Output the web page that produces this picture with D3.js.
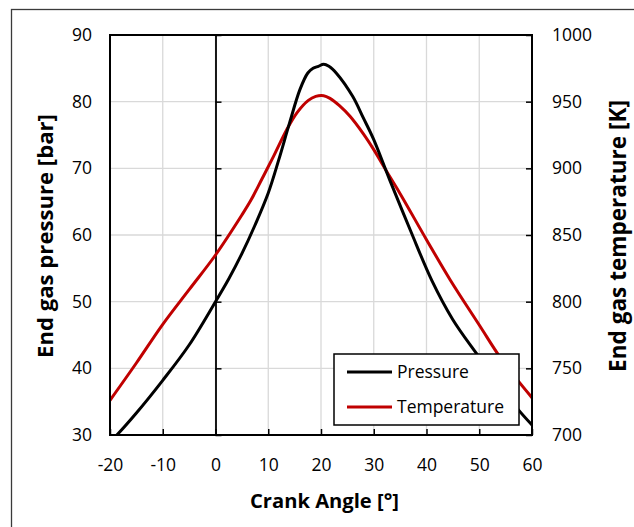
<!DOCTYPE html>
<html>
<head>
<meta charset="utf-8">
<script src="https://cdn.jsdelivr.net/npm/d3@7"></script>
<style>
  html, body { margin: 0; padding: 0; background: #fff; }
  svg { display: block; }
  text { font-family: "Open Sans", "Noto Sans", sans-serif; fill: #000; }
</style>
</head>
<body>
<svg id="chart" width="634" height="527"></svg>
<script>
// Crank angle [°] and end gas pressure [bar]
const angleP = [-20, -18.7, -15, -10, -5, 0, 2.5, 5, 7.5, 10, 12, 14, 16, 17.5, 18.5, 19.5, 20.5, 21.5, 23, 26, 28, 30, 33, 37, 41, 45, 49.5, 53, 57.4, 60];
const pressure = [29, 30, 33.3, 38.2, 43.5, 50, 53.4, 57.2, 61.5, 66.3, 71.3, 76.7, 81.8, 84.3, 85.0, 85.3, 85.6, 85.3, 84.2, 80.8, 77.6, 74.3, 68.3, 60.6, 53.2, 47.3, 42.2, 38.4, 33.8, 31.5];

// Crank angle [°] and end gas temperature [K]
const angleT = [-20, -15, -10, -5, 0, 5, 6.7, 8.8, 11, 13.5, 15.5, 17.6, 19, 20.5, 21.7, 23.5, 25.5, 28, 30, 33, 35, 40, 44.5, 50, 54, 57, 60];
const temperature = [726, 754, 783, 809, 835, 865, 876, 892, 909, 929, 942, 951, 954, 954.5, 952.5, 947, 939, 926, 914, 894, 881, 846.5, 816.3, 782.5, 758, 742.5, 728];

// Axis ticks
const xTicks = [-20, -10, 0, 10, 20, 30, 40, 50, 60];
const pTicks = [30, 40, 50, 60, 70, 80, 90];
const tTicks = [700, 750, 800, 850, 900, 950, 1000];

const seriesNames = ["Pressure", "Temperature"];
const seriesColors = ["#000000", "#C00000"];

const svg = d3.select("#chart");
const L = 110, T = 35, W = 422, H = 400;

// Outer chart frame
svg.append("rect")
  .attr("x", 11.5).attr("y", 9.5).attr("width", 700).attr("height", 600)
  .attr("fill", "none").attr("stroke", "#3a3a3a").attr("stroke-width", 1.3);

const x = d3.scaleLinear().domain([-20, 60]).range([L, L + W]);
const yP = d3.scaleLinear().domain([30, 90]).range([T + H, T]);
const yT = d3.scaleLinear().domain([700, 1000]).range([T + H, T]);

const plot = svg.append("g");

// Gridlines
plot.selectAll("line.vgrid").data(xTicks.slice(1, -1)).enter().append("line")
  .attr("x1", d => x(d)).attr("x2", d => x(d))
  .attr("y1", T).attr("y2", T + H)
  .attr("stroke", "#d9d9d9").attr("stroke-width", 1.3);
plot.selectAll("line.hgrid").data(pTicks.slice(1, -1)).enter().append("line")
  .attr("x1", L).attr("x2", L + W)
  .attr("y1", d => yP(d)).attr("y2", d => yP(d))
  .attr("stroke", "#d9d9d9").attr("stroke-width", 1.3);

// Primary vertical axis crossing at 0°
const zeroAxis = svg.append("g")
  .attr("transform", `translate(${x(0)},0)`)
  .call(d3.axisRight(yP).tickValues(pTicks).tickSizeInner(6).tickSizeOuter(0).tickFormat(""));
zeroAxis.select(".domain").attr("stroke-width", 1.8);
zeroAxis.selectAll(".tick line").attr("stroke-width", 1.5);

// Data lines
svg.append("defs").append("clipPath").attr("id", "clip")
  .append("rect").attr("x", L).attr("y", T).attr("width", W).attr("height", H);

const curve = d3.curveCatmullRom.alpha(0.5);
const lineP = d3.line().x((d, i) => x(angleP[i])).y(d => yP(d)).curve(curve);
const lineT = d3.line().x((d, i) => x(angleT[i])).y(d => yT(d)).curve(curve);

const lines = svg.append("g").attr("clip-path", "url(#clip)");
lines.append("path").datum(temperature).attr("d", lineT)
  .attr("fill", "none").attr("stroke", seriesColors[1]).attr("stroke-width", 3).attr("stroke-linejoin", "round");
lines.append("path").datum(pressure).attr("d", lineP)
  .attr("fill", "none").attr("stroke", seriesColors[0]).attr("stroke-width", 3).attr("stroke-linejoin", "round");

// Plot area border
svg.append("rect").attr("x", L).attr("y", T).attr("width", W).attr("height", H)
  .attr("fill", "none").attr("stroke", "#000").attr("stroke-width", 2);

// Axes
const fs = "17.5px";
const plain = d => String(d);
const gx = svg.append("g").attr("transform", `translate(0,${T + H})`)
  .call(d3.axisBottom(x).tickValues(xTicks).tickFormat(plain).tickSizeInner(-6).tickSizeOuter(0).tickPadding(24));
const gl = svg.append("g").attr("transform", `translate(${L},0)`)
  .call(d3.axisLeft(yP).tickValues(pTicks).tickFormat(plain).tickSize(0).tickPadding(18));
const gr = svg.append("g").attr("transform", `translate(${L + W},0)`)
  .call(d3.axisRight(yT).tickValues(tTicks).tickFormat(plain).tickSizeInner(-6).tickSizeOuter(0).tickPadding(20));
[gx, gl, gr].forEach(g => {
  g.select(".domain").remove();
  g.selectAll(".tick line").attr("stroke", "#000").attr("stroke-width", 1.5);
  g.selectAll(".tick text").style("font-family", '"Open Sans", sans-serif').style("font-size", fs).attr("fill", "#000");
});
gl.selectAll(".tick line").remove();

// Axis titles, sized to a target width
function fitWidth(sel, target, start) {
  sel.style("font-size", start + "px");
  const w = sel.node().getComputedTextLength();
  sel.style("font-size", (start * target / w) + "px");
}
const xt = svg.append("text").text("Crank Angle [°]")
  .attr("x", 324.5).attr("y", 508).attr("text-anchor", "middle").attr("font-weight", "bold");
fitWidth(xt, 149, 20);

const ylt = svg.append("text").text("End gas pressure [bar]")
  .attr("transform", "translate(53,236) rotate(-90)").attr("text-anchor", "middle").attr("font-weight", "bold");
fitWidth(ylt, 244, 20);

const yrt = svg.append("text").text("End gas temperature [K]")
  .attr("transform", "translate(626,236) rotate(-90)").attr("text-anchor", "middle").attr("font-weight", "bold");
fitWidth(yrt, 272, 20);

// Legend
const lg = svg.append("g").attr("transform", "translate(334,354)");
lg.append("rect").attr("width", 185).attr("height", 71)
  .attr("fill", "#fff").attr("stroke", "#000").attr("stroke-width", 1.5);
seriesNames.forEach((name, i) => {
  const yy = 18 + i * 35;
  lg.append("line").attr("x1", 13).attr("x2", 58).attr("y1", yy).attr("y2", yy)
    .attr("stroke", seriesColors[i]).attr("stroke-width", 3);
  lg.append("text").attr("x", 63).attr("y", yy).attr("dy", "0.35em")
    .style("font-size", fs).text(name);
});
</script>
</body>
</html>
